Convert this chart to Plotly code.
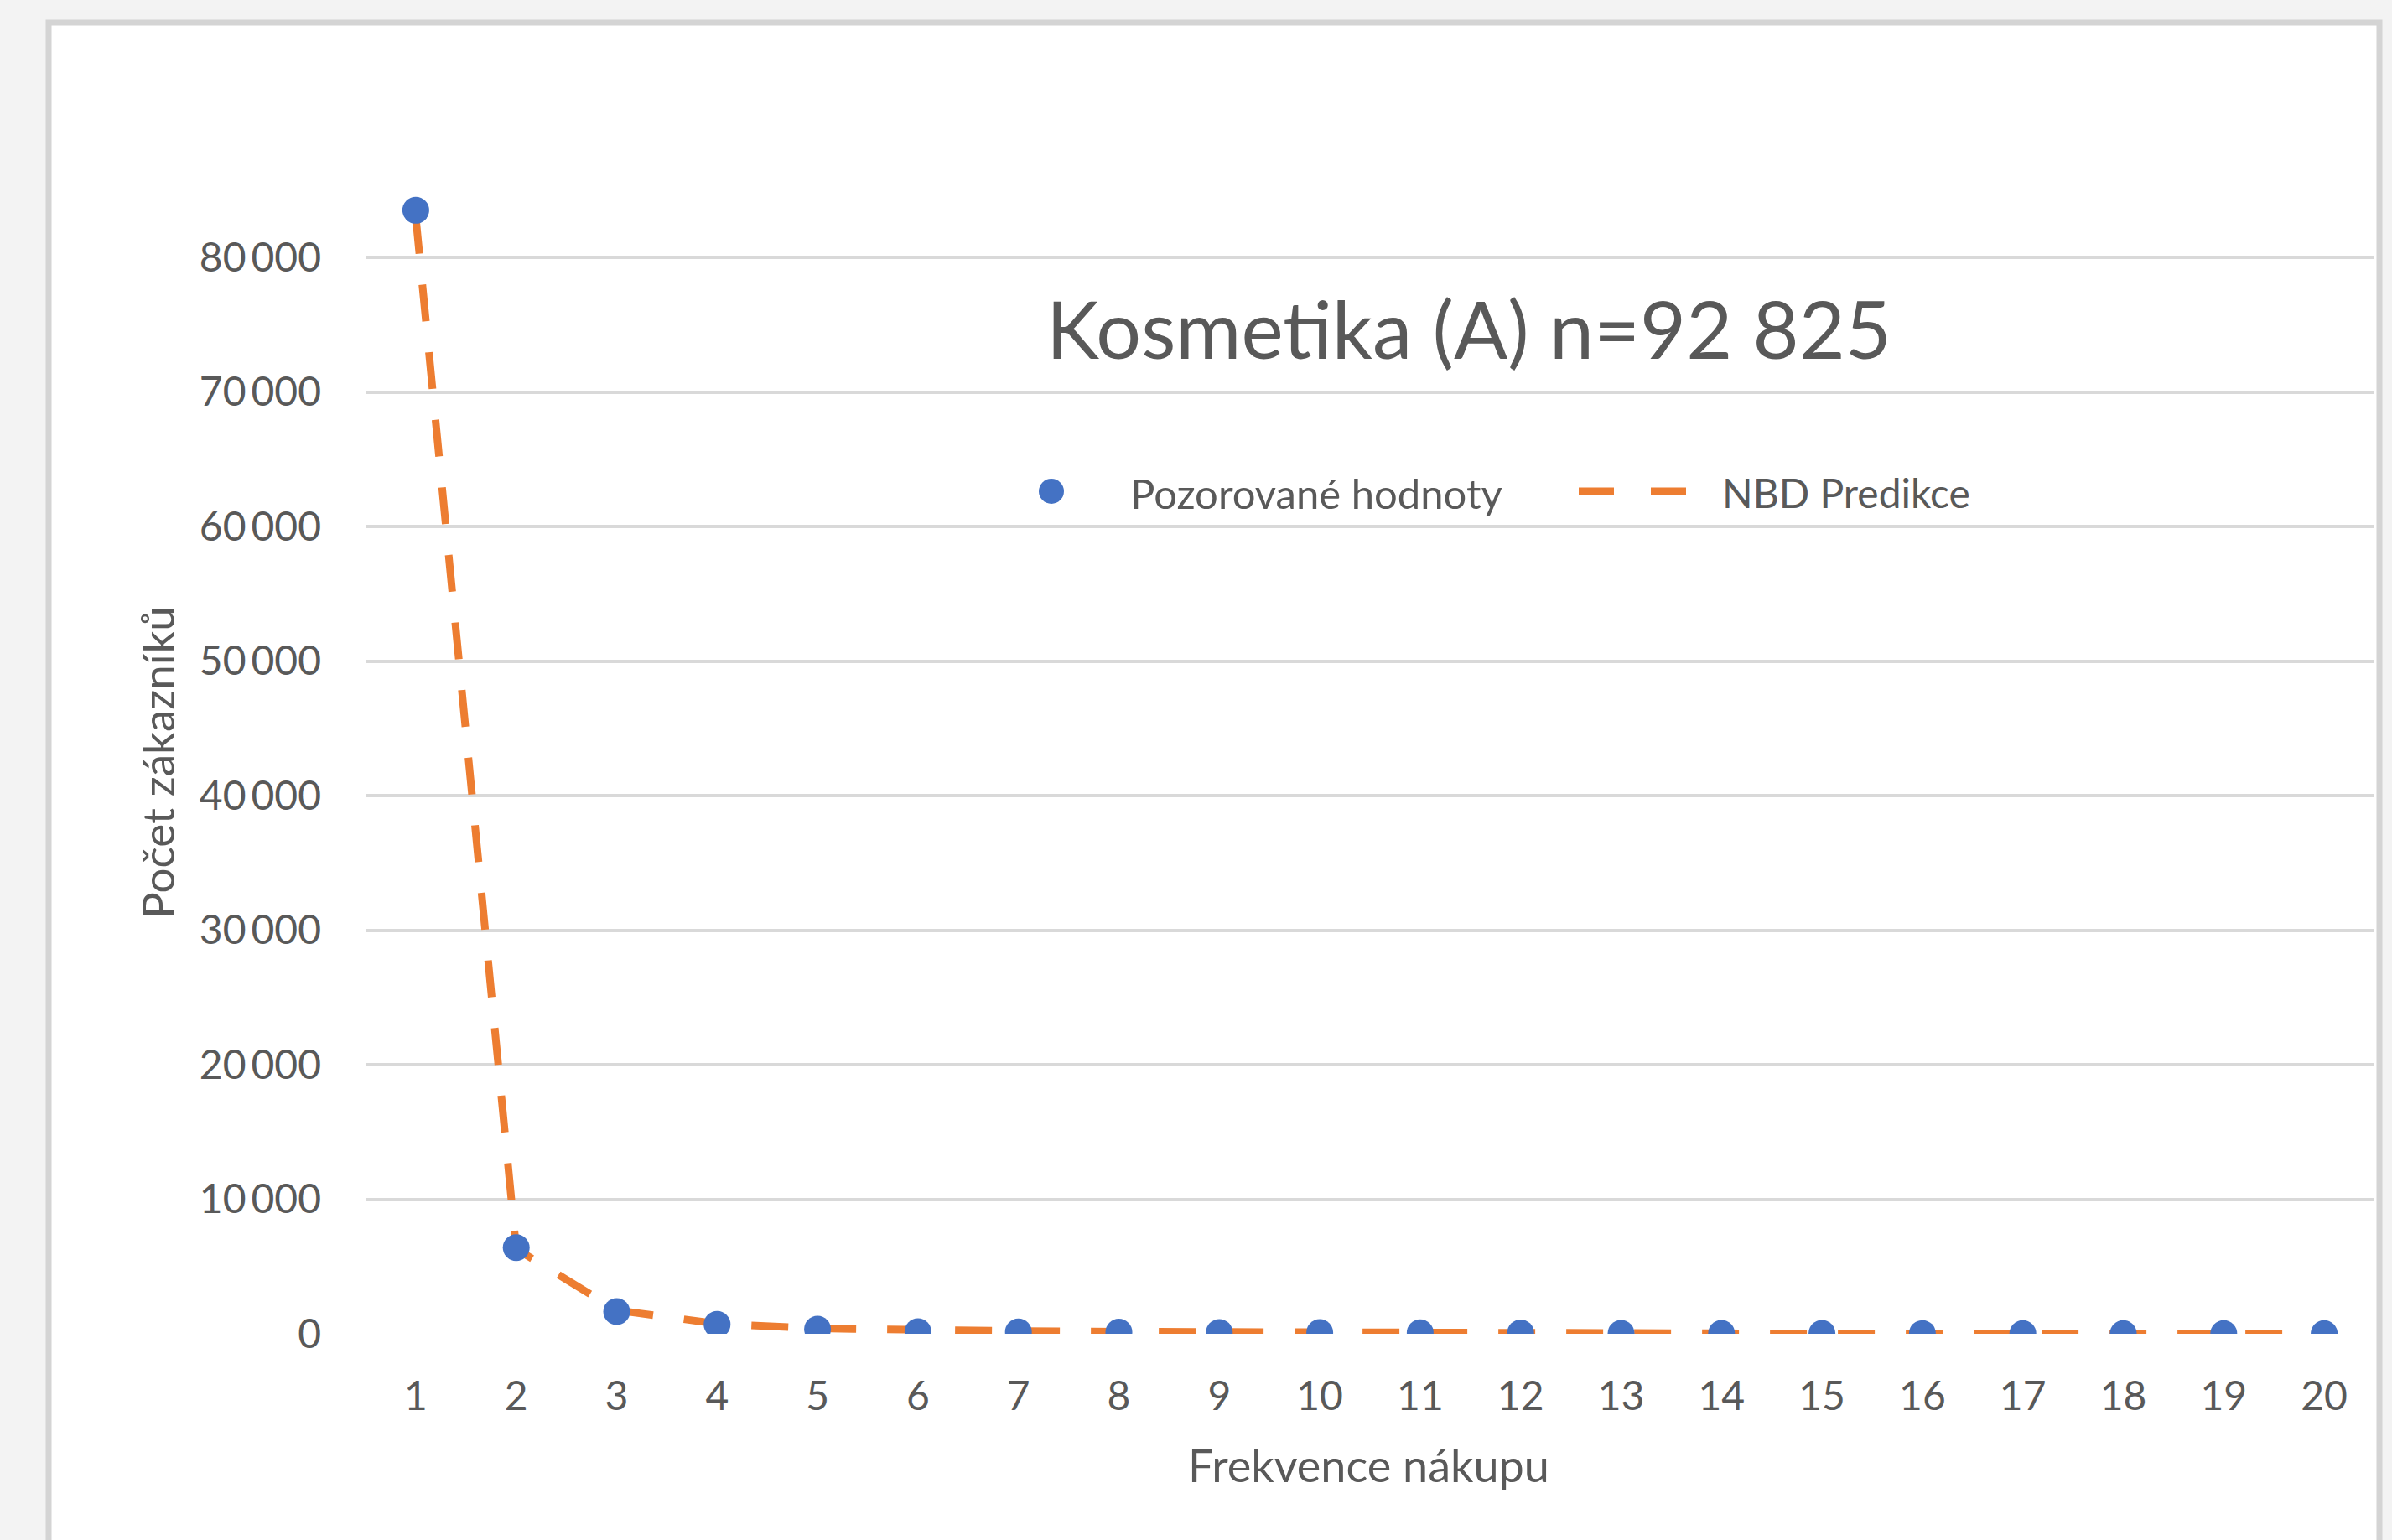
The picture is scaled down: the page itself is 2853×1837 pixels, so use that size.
import plotly.graph_objects as go

# data
frequency = list(range(1, 21))
observed = [83500, 6400, 1650, 700, 340, 150, 140, 120, 100, 90,
            80, 70, 35, 30, 25, 20, 15, 12, 10, 8]
nbd_pred = [83000, 6300, 1750, 750, 400, 260, 200, 160, 120, 100,
            80, 65, 50, 40, 32, 26, 20, 16, 13, 10]
y_ticks = [0, 10000, 20000, 30000, 40000, 50000, 60000, 70000, 80000]

W, H = 2853, 1837
FONT = "Lato"
TXT = "#595959"
BLUE = "#4472C4"
ORANGE = "#ED7D31"


def px(x):
    return x / W


def py(y):
    return 1 - y / H


fig = go.Figure()

fig.add_trace(go.Scatter(
    x=frequency, y=nbd_pred, mode="lines", name="NBD Predikce",
    line=dict(color=ORANGE, width=9, dash="44px,37px"),
))
fig.add_trace(go.Scatter(
    x=frequency, y=observed, mode="markers", name="Pozorované hodnoty",
    marker=dict(color=BLUE, size=32, line=dict(width=0)),
))

shapes = [
    # chart frame
    dict(type="rect", xref="paper", yref="paper", layer="below",
         x0=px(58), x1=px(2838), y0=py(1900), y1=py(27),
         fillcolor="white", line=dict(color="#d4d4d4", width=7)),
    # legend glyphs
    dict(type="circle", xref="paper", yref="paper",
         x0=px(1254 - 15), x1=px(1254 + 15), y0=py(586 + 15), y1=py(586 - 15),
         fillcolor=BLUE, line=dict(width=0)),
    dict(type="line", xref="paper", yref="paper",
         x0=px(1883), x1=px(1925), y0=py(586), y1=py(586),
         line=dict(color=ORANGE, width=9)),
    dict(type="line", xref="paper", yref="paper",
         x0=px(1969), x1=px(2011), y0=py(586), y1=py(586),
         line=dict(color=ORANGE, width=9)),
]

annotations = [
    dict(text="Kosmetika (A) n=92 825", xref="paper", yref="paper",
         x=px(1752), y=py(391), xanchor="center", yanchor="middle",
         showarrow=False, font=dict(family=FONT, size=95, color=TXT)),
    dict(text="Pozorované hodnoty", xref="paper", yref="paper",
         x=px(1346), y=py(588), xanchor="left", yanchor="middle",
         showarrow=False, font=dict(family=FONT, size=49, color=TXT)),
    dict(text="NBD Predikce", xref="paper", yref="paper",
         x=px(2052), y=py(588), xanchor="left", yanchor="middle",
         showarrow=False, font=dict(family=FONT, size=48, color=TXT)),
    dict(text="Frekvence nákupu", xref="paper", yref="paper",
         x=px(1632), y=py(1747), xanchor="center", yanchor="middle",
         showarrow=False, font=dict(family=FONT, size=54, color=TXT)),
    dict(text="Počet zákazníků", xref="paper", yref="paper",
         x=px(187), y=py(910), xanchor="center", yanchor="middle",
         textangle=-90, showarrow=False,
         font=dict(family=FONT, size=53, color=TXT)),
]

y_top = 88000
y_zero_px = 1591
px_per_unit = (1591 - 307) / 80000

fig.update_layout(
    width=W, height=H,
    margin=dict(l=0, r=0, t=0, b=0),
    paper_bgcolor="#f3f3f3",
    plot_bgcolor="rgba(0,0,0,0)",
    showlegend=False,
    separators=",\u2009",
    shapes=shapes,
    annotations=annotations,
    font=dict(family=FONT, color=TXT),
)

fig.update_xaxes(
    domain=[px(436), px(2832)],
    range=[0.5, 20.5],
    tickvals=frequency,
    showgrid=False, zeroline=False, showline=False,
    ticks="", ticklabelstandoff=42,
    tickfont=dict(family=FONT, size=48, color=TXT),
    automargin=False,
)
fig.update_yaxes(
    domain=[py(y_zero_px), py(y_zero_px - y_top * px_per_unit)],
    range=[0, y_top],
    tickvals=y_ticks,
    tickformat=",d",
    showgrid=True, gridcolor="#d9d9d9", gridwidth=4,
    zeroline=False, showline=False,
    ticks="", ticklabelstandoff=52,
    tickfont=dict(family=FONT, size=48, color=TXT),
    automargin=False,
)

fig.write_html(
    "out.html",
    config={"displayModeBar": False},
    post_script="document.body.style.margin='0px';"
                "document.body.style.background='#f3f3f3';",
)
